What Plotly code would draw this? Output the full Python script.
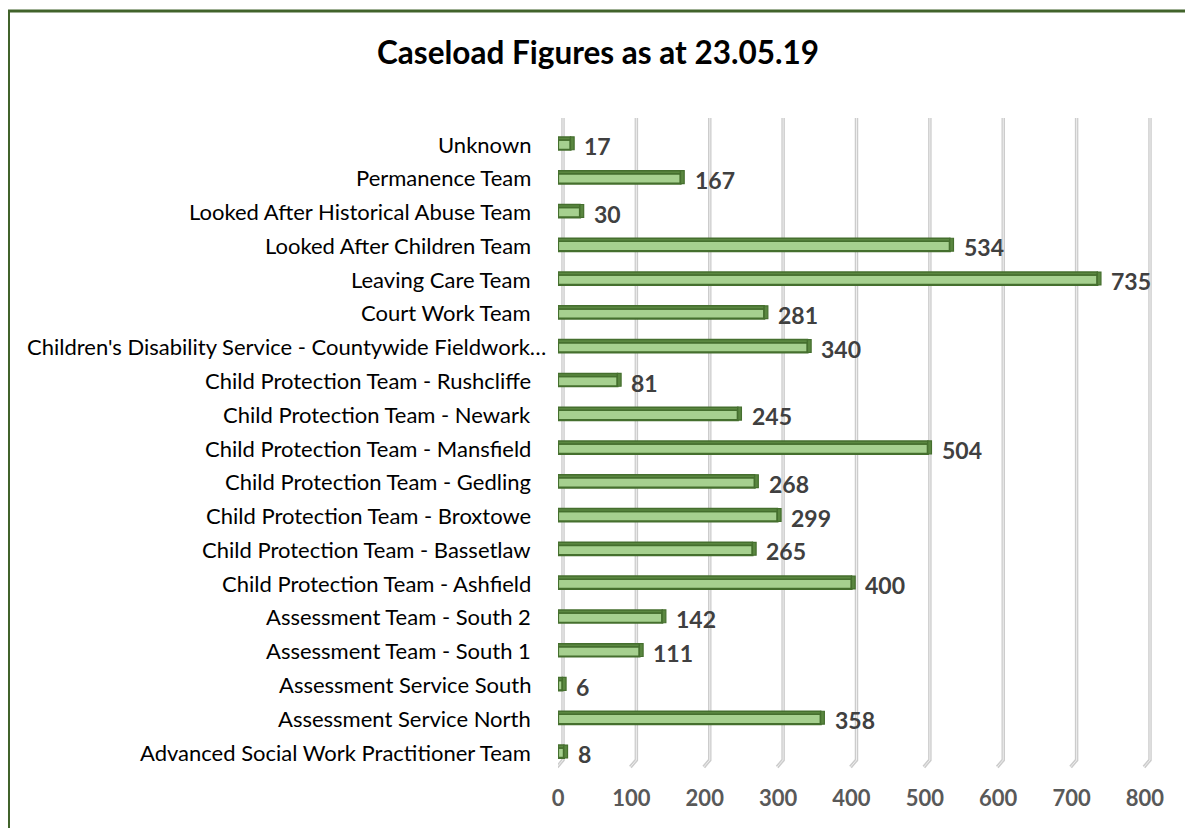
import plotly.graph_objects as go

categories = [
    "Advanced Social Work Practitioner Team",
    "Assessment Service North",
    "Assessment Service South",
    "Assessment Team - South 1",
    "Assessment Team - South 2",
    "Child Protection Team - Ashfield",
    "Child Protection Team - Bassetlaw",
    "Child Protection Team - Broxtowe",
    "Child Protection Team - Gedling",
    "Child Protection Team - Mansfield",
    "Child Protection Team - Newark",
    "Child Protection Team - Rushcliffe",
    "Children's Disability Service - Countywide Fieldwork…",
    "Court Work Team",
    "Leaving Care Team",
    "Looked After Children Team",
    "Looked After Historical Abuse Team",
    "Permanence Team",
    "Unknown",
]
values = [8, 358, 6, 111, 142, 400, 265, 299, 268, 504, 245, 81, 340, 281, 735, 534, 30, 167, 17]
x_ticks = [0, 100, 200, 300, 400, 500, 600, 700, 800]

# page has an 8px body margin; figure coordinates are offset accordingly
OFF = 8
W, H = 1193, 828
ML, MT = 558 - OFF, 118 - OFF
PW, PH = 609, 650
MR = W - ML - PW
MB = H - MT - PH
XMAX = 830

FONT = "Lato"
FILL = "#a6d08f"
EDGE = "#456f2e"
TOPC = "#5a8740"

ypos = list(range(len(categories)))

fig = go.Figure()
# front face
fig.add_trace(go.Bar(
    x=values, y=ypos, orientation="h", width=0.30, offset=-0.17,
    marker=dict(color=FILL, line=dict(color=EDGE, width=2.2)),
    hoverinfo="skip", showlegend=False,
))
# top face (3D look)
fig.add_trace(go.Bar(
    x=values, y=ypos, orientation="h", width=0.09, offset=0.12,
    marker=dict(color=TOPC, line=dict(color=EDGE, width=1.5)),
    hoverinfo="skip", showlegend=False,
))
# side face at bar end (3D look)
fig.add_trace(go.Bar(
    x=[5] * len(values), base=values, y=ypos, orientation="h", width=0.38, offset=-0.17,
    marker=dict(color=TOPC, line=dict(color=EDGE, width=1.2)),
    hoverinfo="skip", showlegend=False,
))

shapes = []
# 3D gridlines
yb_back = (768 - 760) / PH
yb_front = (768 - 767) / PH
for t in x_ticks:
    path = f"M 5,1 L 5,{yb_back} L -1,{yb_front}"
    for col, wd in (("#cccccc", 3.5), ("#eeeeee", 1)):
        shapes.append(dict(
            type="path", xref="x", yref="paper", xsizemode="pixel", xanchor=t,
            path=path, line=dict(color=col, width=wd), layer="below",
        ))
# frame border (only top and left visible)
bx = (8.5 - OFF - ML) / PW
by = (768 - 11) / PH
shapes.append(dict(type="rect", xref="paper", yref="paper",
                   x0=bx, x1=3, y0=-3, y1=by,
                   line=dict(color="#41632b", width=3), layer="above"))

annotations = []
# category labels (the truncated one sits a little further right, as in Excel)
for name, y in zip(categories, ypos):
    annotations.append(dict(
        x=0, y=y, xref="paper", yref="y", text=name, showarrow=False,
        xanchor="right", yanchor="middle",
        xshift=-10 if name.endswith("…") else -25,
        font=dict(family=FONT, size=22, color="#000000"),
    ))
# value labels
for v, y in zip(values, ypos):
    annotations.append(dict(
        x=v, y=y, xref="x", yref="y", text=str(v), showarrow=False,
        xanchor="left", yanchor="middle", xshift=12, yshift=-2,
        font=dict(family=FONT, size=23, color="#404040", weight="bold"),
    ))

fig.update_layout(
    width=W, height=H,
    margin=dict(l=ML, r=MR, t=MT, b=MB),
    paper_bgcolor="white", plot_bgcolor="white",
    barmode="overlay",
    title=dict(text="<b>Caseload Figures as at 23.05.19</b>", x=(598 - OFF) / W, xanchor="center",
               y=1 - (53 - OFF) / H, yanchor="middle",
               font=dict(family=FONT, size=31.5, color="#000000")),
    xaxis=dict(range=[0, XMAX], tickvals=x_ticks, showgrid=False, zeroline=False,
               showline=False, ticks="", ticklabelstandoff=15,
               tickfont=dict(family=FONT, size=22, color="#595959", weight="bold"),
               fixedrange=True),
    yaxis=dict(range=[-0.47, 18.77], tickvals=ypos, showticklabels=False,
               showgrid=False, zeroline=False, showline=False, ticks="",
               fixedrange=True),
    shapes=shapes,
    annotations=annotations,
)

fig.write_html("out.html")
